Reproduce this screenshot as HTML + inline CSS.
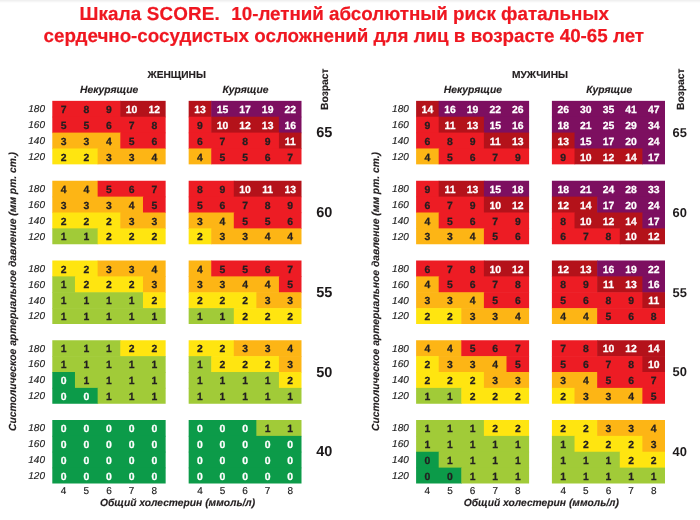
<!DOCTYPE html>
<html lang="ru"><head><meta charset="utf-8"><title>Шкала SCORE</title>
<style>
html,body{margin:0;padding:0;background:#fff;}
body{width:700px;height:520px;position:relative;overflow:hidden;font-family:"Liberation Sans",Arial,sans-serif;color:#231f20;text-rendering:geometricPrecision;}
.topsh{position:absolute;left:0;top:0;width:700px;height:3px;background:linear-gradient(#ededed,#fff);}
#chart{position:absolute;left:0;top:0;width:700px;height:520px;overflow:hidden;background:#fff;filter:blur(0.45px);}
svg.bg{position:absolute;left:0;top:0;}
.title{position:absolute;white-space:pre;color:#ef1720;font-weight:bold;font-size:18.8px;line-height:22px;-webkit-text-stroke:0.2px;}
.c{position:absolute;text-align:center;font-weight:bold;font-size:10.4px;line-height:15px;height:15px;color:#231f20;-webkit-text-stroke:0.25px;}
.w{color:#fff;}
.rl{position:absolute;font-style:italic;font-size:10px;line-height:15px;height:15px;text-align:right;width:30px;color:#1c1c1c;-webkit-text-stroke:0.15px;}
.xl{position:absolute;font-size:10px;text-align:center;color:#202020;-webkit-text-stroke:0.15px;}
.h{position:absolute;font-weight:bold;white-space:nowrap;color:#231f20;-webkit-text-stroke:0.15px;}
.hi{position:absolute;font-weight:bold;font-style:italic;white-space:nowrap;color:#231f20;-webkit-text-stroke:0.15px;}
.age{position:absolute;font-weight:bold;white-space:nowrap;color:#1d1a1b;line-height:16px;}
.rot{position:absolute;white-space:nowrap;transform-origin:0 0;transform:rotate(-90deg);color:#231f20;-webkit-text-stroke:0.15px;}
</style></head><body>
<div id="chart">
<div class="topsh"></div>
<div class="title" id="t1" style="top:2.7px;left:79.4px;font-size:18.8px;letter-spacing:0.18px">Шкала SCORE. </div>
<div class="title" id="t1b" style="top:2.7px;left:231.3px;font-size:18.78px;">10-летний абсолютный риск фатальных</div>
<div class="title" id="t2" style="top:24.5px;left:43.6px;">сердечно-сосудистых осложнений для лиц в возрасте 40-65 лет</div>
<svg class="bg" width="700" height="520" viewBox="0 0 700 520">
<rect x="52.30" y="100.85" width="68.61" height="16.48" fill="#ed1c24"/><rect x="120.31" y="100.85" width="45.34" height="16.48" fill="#b4121a"/><rect x="52.30" y="116.72" width="113.35" height="16.48" fill="#ed1c24"/><rect x="52.30" y="132.60" width="68.61" height="16.48" fill="#fdb515"/><rect x="120.31" y="132.60" width="45.34" height="16.48" fill="#ed1c24"/><rect x="52.30" y="148.47" width="45.94" height="15.88" fill="#ffe510"/><rect x="97.64" y="148.47" width="68.01" height="15.88" fill="#fdb515"/>
<rect x="52.30" y="180.75" width="45.94" height="16.48" fill="#fdb515"/><rect x="97.64" y="180.75" width="68.01" height="16.48" fill="#ed1c24"/><rect x="52.30" y="196.62" width="91.28" height="16.48" fill="#fdb515"/><rect x="142.98" y="196.62" width="22.67" height="16.48" fill="#ed1c24"/><rect x="52.30" y="212.50" width="68.61" height="16.48" fill="#ffe510"/><rect x="120.31" y="212.50" width="45.34" height="16.48" fill="#fdb515"/><rect x="52.30" y="228.38" width="45.94" height="15.88" fill="#a1cb38"/><rect x="97.64" y="228.38" width="68.01" height="15.88" fill="#ffe510"/>
<rect x="52.30" y="260.50" width="45.94" height="16.48" fill="#ffe510"/><rect x="97.64" y="260.50" width="68.01" height="16.48" fill="#fdb515"/><rect x="52.30" y="276.38" width="23.27" height="16.48" fill="#a1cb38"/><rect x="74.97" y="276.38" width="68.61" height="16.48" fill="#ffe510"/><rect x="142.98" y="276.38" width="22.67" height="16.48" fill="#fdb515"/><rect x="52.30" y="292.25" width="91.28" height="16.48" fill="#a1cb38"/><rect x="142.98" y="292.25" width="22.67" height="16.48" fill="#ffe510"/><rect x="52.30" y="308.12" width="113.35" height="15.88" fill="#a1cb38"/>
<rect x="52.30" y="340.25" width="68.61" height="16.48" fill="#a1cb38"/><rect x="120.31" y="340.25" width="45.34" height="16.48" fill="#ffe510"/><rect x="52.30" y="356.12" width="113.35" height="16.48" fill="#a1cb38"/><rect x="52.30" y="372.00" width="23.27" height="16.48" fill="#0c9b49"/><rect x="74.97" y="372.00" width="90.68" height="16.48" fill="#a1cb38"/><rect x="52.30" y="387.88" width="45.94" height="15.88" fill="#0c9b49"/><rect x="97.64" y="387.88" width="68.01" height="15.88" fill="#a1cb38"/>
<rect x="52.30" y="420.00" width="113.35" height="16.48" fill="#0c9b49"/><rect x="52.30" y="435.88" width="113.35" height="16.48" fill="#0c9b49"/><rect x="52.30" y="451.75" width="113.35" height="16.48" fill="#0c9b49"/><rect x="52.30" y="467.62" width="113.35" height="15.88" fill="#0c9b49"/>
<rect x="188.66" y="100.85" width="23.17" height="16.48" fill="#b4121a"/><rect x="211.23" y="100.85" width="90.27" height="16.48" fill="#7d0f60"/><rect x="188.66" y="116.72" width="23.17" height="16.48" fill="#ed1c24"/><rect x="211.23" y="116.72" width="68.30" height="16.48" fill="#b4121a"/><rect x="278.93" y="116.72" width="22.57" height="16.48" fill="#7d0f60"/><rect x="188.66" y="132.60" width="90.87" height="16.48" fill="#ed1c24"/><rect x="278.93" y="132.60" width="22.57" height="16.48" fill="#b4121a"/><rect x="188.66" y="148.47" width="23.17" height="15.88" fill="#fdb515"/><rect x="211.23" y="148.47" width="90.27" height="15.88" fill="#ed1c24"/>
<rect x="188.66" y="180.75" width="45.74" height="16.48" fill="#ed1c24"/><rect x="233.80" y="180.75" width="67.70" height="16.48" fill="#b4121a"/><rect x="188.66" y="196.62" width="112.84" height="16.48" fill="#ed1c24"/><rect x="188.66" y="212.50" width="45.74" height="16.48" fill="#fdb515"/><rect x="233.80" y="212.50" width="67.70" height="16.48" fill="#ed1c24"/><rect x="188.66" y="228.38" width="23.17" height="15.88" fill="#ffe510"/><rect x="211.23" y="228.38" width="90.27" height="15.88" fill="#fdb515"/>
<rect x="188.66" y="260.50" width="23.17" height="16.48" fill="#fdb515"/><rect x="211.23" y="260.50" width="90.27" height="16.48" fill="#ed1c24"/><rect x="188.66" y="276.38" width="90.87" height="16.48" fill="#fdb515"/><rect x="278.93" y="276.38" width="22.57" height="16.48" fill="#ed1c24"/><rect x="188.66" y="292.25" width="68.30" height="16.48" fill="#ffe510"/><rect x="256.36" y="292.25" width="45.14" height="16.48" fill="#fdb515"/><rect x="188.66" y="308.12" width="45.74" height="15.88" fill="#a1cb38"/><rect x="233.80" y="308.12" width="67.70" height="15.88" fill="#ffe510"/>
<rect x="188.66" y="340.25" width="45.74" height="16.48" fill="#ffe510"/><rect x="233.80" y="340.25" width="67.70" height="16.48" fill="#fdb515"/><rect x="188.66" y="356.12" width="23.17" height="16.48" fill="#a1cb38"/><rect x="211.23" y="356.12" width="68.30" height="16.48" fill="#ffe510"/><rect x="278.93" y="356.12" width="22.57" height="16.48" fill="#fdb515"/><rect x="188.66" y="372.00" width="90.87" height="16.48" fill="#a1cb38"/><rect x="278.93" y="372.00" width="22.57" height="16.48" fill="#ffe510"/><rect x="188.66" y="387.88" width="112.84" height="15.88" fill="#a1cb38"/>
<rect x="188.66" y="420.00" width="68.30" height="16.48" fill="#0c9b49"/><rect x="256.36" y="420.00" width="45.14" height="16.48" fill="#a1cb38"/><rect x="188.66" y="435.88" width="112.84" height="16.48" fill="#0c9b49"/><rect x="188.66" y="451.75" width="112.84" height="16.48" fill="#0c9b49"/><rect x="188.66" y="467.62" width="112.84" height="15.88" fill="#0c9b49"/>
<rect x="416.10" y="100.85" width="23.20" height="16.48" fill="#b4121a"/><rect x="438.70" y="100.85" width="90.40" height="16.48" fill="#7d0f60"/><rect x="416.10" y="116.72" width="23.20" height="16.48" fill="#ed1c24"/><rect x="438.70" y="116.72" width="45.80" height="16.48" fill="#b4121a"/><rect x="483.90" y="116.72" width="45.20" height="16.48" fill="#7d0f60"/><rect x="416.10" y="132.60" width="68.40" height="16.48" fill="#ed1c24"/><rect x="483.90" y="132.60" width="45.20" height="16.48" fill="#b4121a"/><rect x="416.10" y="148.47" width="23.20" height="15.88" fill="#fdb515"/><rect x="438.70" y="148.47" width="90.40" height="15.88" fill="#ed1c24"/>
<rect x="416.10" y="180.75" width="23.20" height="16.48" fill="#ed1c24"/><rect x="438.70" y="180.75" width="45.80" height="16.48" fill="#b4121a"/><rect x="483.90" y="180.75" width="45.20" height="16.48" fill="#7d0f60"/><rect x="416.10" y="196.62" width="68.40" height="16.48" fill="#ed1c24"/><rect x="483.90" y="196.62" width="45.20" height="16.48" fill="#b4121a"/><rect x="416.10" y="212.50" width="23.20" height="16.48" fill="#fdb515"/><rect x="438.70" y="212.50" width="90.40" height="16.48" fill="#ed1c24"/><rect x="416.10" y="228.38" width="68.40" height="15.88" fill="#fdb515"/><rect x="483.90" y="228.38" width="45.20" height="15.88" fill="#ed1c24"/>
<rect x="416.10" y="260.50" width="68.40" height="16.48" fill="#ed1c24"/><rect x="483.90" y="260.50" width="45.20" height="16.48" fill="#b4121a"/><rect x="416.10" y="276.38" width="23.20" height="16.48" fill="#fdb515"/><rect x="438.70" y="276.38" width="90.40" height="16.48" fill="#ed1c24"/><rect x="416.10" y="292.25" width="68.40" height="16.48" fill="#fdb515"/><rect x="483.90" y="292.25" width="45.20" height="16.48" fill="#ed1c24"/><rect x="416.10" y="308.12" width="45.80" height="15.88" fill="#ffe510"/><rect x="461.30" y="308.12" width="67.80" height="15.88" fill="#fdb515"/>
<rect x="416.10" y="340.25" width="45.80" height="16.48" fill="#fdb515"/><rect x="461.30" y="340.25" width="67.80" height="16.48" fill="#ed1c24"/><rect x="416.10" y="356.12" width="23.20" height="16.48" fill="#ffe510"/><rect x="438.70" y="356.12" width="68.40" height="16.48" fill="#fdb515"/><rect x="506.50" y="356.12" width="22.60" height="16.48" fill="#ed1c24"/><rect x="416.10" y="372.00" width="68.40" height="16.48" fill="#ffe510"/><rect x="483.90" y="372.00" width="45.20" height="16.48" fill="#fdb515"/><rect x="416.10" y="387.88" width="45.80" height="15.88" fill="#a1cb38"/><rect x="461.30" y="387.88" width="67.80" height="15.88" fill="#ffe510"/>
<rect x="416.10" y="420.00" width="68.40" height="16.48" fill="#a1cb38"/><rect x="483.90" y="420.00" width="45.20" height="16.48" fill="#ffe510"/><rect x="416.10" y="435.88" width="113.00" height="16.48" fill="#a1cb38"/><rect x="416.10" y="451.75" width="23.20" height="16.48" fill="#0c9b49"/><rect x="438.70" y="451.75" width="90.40" height="16.48" fill="#a1cb38"/><rect x="416.10" y="467.62" width="45.80" height="15.88" fill="#0c9b49"/><rect x="461.30" y="467.62" width="67.80" height="15.88" fill="#a1cb38"/>
<rect x="551.90" y="100.85" width="113.10" height="16.48" fill="#7d0f60"/><rect x="551.90" y="116.72" width="113.10" height="16.48" fill="#7d0f60"/><rect x="551.90" y="132.60" width="23.22" height="16.48" fill="#b4121a"/><rect x="574.52" y="132.60" width="90.48" height="16.48" fill="#7d0f60"/><rect x="551.90" y="148.47" width="23.22" height="15.88" fill="#ed1c24"/><rect x="574.52" y="148.47" width="68.46" height="15.88" fill="#b4121a"/><rect x="642.38" y="148.47" width="22.62" height="15.88" fill="#7d0f60"/>
<rect x="551.90" y="180.75" width="113.10" height="16.48" fill="#7d0f60"/><rect x="551.90" y="196.62" width="45.84" height="16.48" fill="#b4121a"/><rect x="597.14" y="196.62" width="67.86" height="16.48" fill="#7d0f60"/><rect x="551.90" y="212.50" width="23.22" height="16.48" fill="#ed1c24"/><rect x="574.52" y="212.50" width="68.46" height="16.48" fill="#b4121a"/><rect x="642.38" y="212.50" width="22.62" height="16.48" fill="#7d0f60"/><rect x="551.90" y="228.38" width="68.46" height="15.88" fill="#ed1c24"/><rect x="619.76" y="228.38" width="45.24" height="15.88" fill="#b4121a"/>
<rect x="551.90" y="260.50" width="45.84" height="16.48" fill="#b4121a"/><rect x="597.14" y="260.50" width="67.86" height="16.48" fill="#7d0f60"/><rect x="551.90" y="276.38" width="45.84" height="16.48" fill="#ed1c24"/><rect x="597.14" y="276.38" width="45.84" height="16.48" fill="#b4121a"/><rect x="642.38" y="276.38" width="22.62" height="16.48" fill="#7d0f60"/><rect x="551.90" y="292.25" width="91.08" height="16.48" fill="#ed1c24"/><rect x="642.38" y="292.25" width="22.62" height="16.48" fill="#b4121a"/><rect x="551.90" y="308.12" width="45.84" height="15.88" fill="#fdb515"/><rect x="597.14" y="308.12" width="67.86" height="15.88" fill="#ed1c24"/>
<rect x="551.90" y="340.25" width="45.84" height="16.48" fill="#ed1c24"/><rect x="597.14" y="340.25" width="67.86" height="16.48" fill="#b4121a"/><rect x="551.90" y="356.12" width="91.08" height="16.48" fill="#ed1c24"/><rect x="642.38" y="356.12" width="22.62" height="16.48" fill="#b4121a"/><rect x="551.90" y="372.00" width="45.84" height="16.48" fill="#fdb515"/><rect x="597.14" y="372.00" width="67.86" height="16.48" fill="#ed1c24"/><rect x="551.90" y="387.88" width="23.22" height="15.88" fill="#ffe510"/><rect x="574.52" y="387.88" width="68.46" height="15.88" fill="#fdb515"/><rect x="642.38" y="387.88" width="22.62" height="15.88" fill="#ed1c24"/>
<rect x="551.90" y="420.00" width="45.84" height="16.48" fill="#ffe510"/><rect x="597.14" y="420.00" width="67.86" height="16.48" fill="#fdb515"/><rect x="551.90" y="435.88" width="23.22" height="16.48" fill="#a1cb38"/><rect x="574.52" y="435.88" width="68.46" height="16.48" fill="#ffe510"/><rect x="642.38" y="435.88" width="22.62" height="16.48" fill="#fdb515"/><rect x="551.90" y="451.75" width="68.46" height="16.48" fill="#a1cb38"/><rect x="619.76" y="451.75" width="45.24" height="16.48" fill="#ffe510"/><rect x="551.90" y="467.62" width="113.10" height="15.88" fill="#a1cb38"/>
</svg>
<div class="c" style="left:52.30px;top:103px;width:22.67px">7</div><div class="c" style="left:74.97px;top:103px;width:22.67px">8</div><div class="c" style="left:97.64px;top:103px;width:22.67px">9</div><div class="c w" style="left:120.31px;top:103px;width:22.67px">10</div><div class="c w" style="left:142.98px;top:103px;width:22.67px">12</div><div class="c" style="left:52.30px;top:119px;width:22.67px">5</div><div class="c" style="left:74.97px;top:119px;width:22.67px">5</div><div class="c" style="left:97.64px;top:119px;width:22.67px">6</div><div class="c" style="left:120.31px;top:119px;width:22.67px">7</div><div class="c" style="left:142.98px;top:119px;width:22.67px">8</div><div class="c" style="left:52.30px;top:135px;width:22.67px">3</div><div class="c" style="left:74.97px;top:135px;width:22.67px">3</div><div class="c" style="left:97.64px;top:135px;width:22.67px">4</div><div class="c" style="left:120.31px;top:135px;width:22.67px">5</div><div class="c" style="left:142.98px;top:135px;width:22.67px">6</div><div class="c" style="left:52.30px;top:151px;width:22.67px">2</div><div class="c" style="left:74.97px;top:151px;width:22.67px">2</div><div class="c" style="left:97.64px;top:151px;width:22.67px">3</div><div class="c" style="left:120.31px;top:151px;width:22.67px">3</div><div class="c" style="left:142.98px;top:151px;width:22.67px">4</div>
<div class="c" style="left:52.30px;top:183px;width:22.67px">4</div><div class="c" style="left:74.97px;top:183px;width:22.67px">4</div><div class="c" style="left:97.64px;top:183px;width:22.67px">5</div><div class="c" style="left:120.31px;top:183px;width:22.67px">6</div><div class="c" style="left:142.98px;top:183px;width:22.67px">7</div><div class="c" style="left:52.30px;top:199px;width:22.67px">3</div><div class="c" style="left:74.97px;top:199px;width:22.67px">3</div><div class="c" style="left:97.64px;top:199px;width:22.67px">3</div><div class="c" style="left:120.31px;top:199px;width:22.67px">4</div><div class="c" style="left:142.98px;top:199px;width:22.67px">5</div><div class="c" style="left:52.30px;top:215px;width:22.67px">2</div><div class="c" style="left:74.97px;top:215px;width:22.67px">2</div><div class="c" style="left:97.64px;top:215px;width:22.67px">2</div><div class="c" style="left:120.31px;top:215px;width:22.67px">3</div><div class="c" style="left:142.98px;top:215px;width:22.67px">3</div><div class="c" style="left:52.30px;top:230px;width:22.67px">1</div><div class="c" style="left:74.97px;top:230px;width:22.67px">1</div><div class="c" style="left:97.64px;top:230px;width:22.67px">2</div><div class="c" style="left:120.31px;top:230px;width:22.67px">2</div><div class="c" style="left:142.98px;top:230px;width:22.67px">2</div>
<div class="c" style="left:52.30px;top:263px;width:22.67px">2</div><div class="c" style="left:74.97px;top:263px;width:22.67px">2</div><div class="c" style="left:97.64px;top:263px;width:22.67px">3</div><div class="c" style="left:120.31px;top:263px;width:22.67px">3</div><div class="c" style="left:142.98px;top:263px;width:22.67px">4</div><div class="c" style="left:52.30px;top:278px;width:22.67px">1</div><div class="c" style="left:74.97px;top:278px;width:22.67px">2</div><div class="c" style="left:97.64px;top:278px;width:22.67px">2</div><div class="c" style="left:120.31px;top:278px;width:22.67px">2</div><div class="c" style="left:142.98px;top:278px;width:22.67px">3</div><div class="c" style="left:52.30px;top:294px;width:22.67px">1</div><div class="c" style="left:74.97px;top:294px;width:22.67px">1</div><div class="c" style="left:97.64px;top:294px;width:22.67px">1</div><div class="c" style="left:120.31px;top:294px;width:22.67px">1</div><div class="c" style="left:142.98px;top:294px;width:22.67px">2</div><div class="c" style="left:52.30px;top:310px;width:22.67px">1</div><div class="c" style="left:74.97px;top:310px;width:22.67px">1</div><div class="c" style="left:97.64px;top:310px;width:22.67px">1</div><div class="c" style="left:120.31px;top:310px;width:22.67px">1</div><div class="c" style="left:142.98px;top:310px;width:22.67px">1</div>
<div class="c" style="left:52.30px;top:342px;width:22.67px">1</div><div class="c" style="left:74.97px;top:342px;width:22.67px">1</div><div class="c" style="left:97.64px;top:342px;width:22.67px">1</div><div class="c" style="left:120.31px;top:342px;width:22.67px">2</div><div class="c" style="left:142.98px;top:342px;width:22.67px">2</div><div class="c" style="left:52.30px;top:358px;width:22.67px">1</div><div class="c" style="left:74.97px;top:358px;width:22.67px">1</div><div class="c" style="left:97.64px;top:358px;width:22.67px">1</div><div class="c" style="left:120.31px;top:358px;width:22.67px">1</div><div class="c" style="left:142.98px;top:358px;width:22.67px">1</div><div class="c w" style="left:52.30px;top:374px;width:22.67px">0</div><div class="c" style="left:74.97px;top:374px;width:22.67px">1</div><div class="c" style="left:97.64px;top:374px;width:22.67px">1</div><div class="c" style="left:120.31px;top:374px;width:22.67px">1</div><div class="c" style="left:142.98px;top:374px;width:22.67px">1</div><div class="c w" style="left:52.30px;top:390px;width:22.67px">0</div><div class="c w" style="left:74.97px;top:390px;width:22.67px">0</div><div class="c" style="left:97.64px;top:390px;width:22.67px">1</div><div class="c" style="left:120.31px;top:390px;width:22.67px">1</div><div class="c" style="left:142.98px;top:390px;width:22.67px">1</div>
<div class="c w" style="left:52.30px;top:422px;width:22.67px">0</div><div class="c w" style="left:74.97px;top:422px;width:22.67px">0</div><div class="c w" style="left:97.64px;top:422px;width:22.67px">0</div><div class="c w" style="left:120.31px;top:422px;width:22.67px">0</div><div class="c w" style="left:142.98px;top:422px;width:22.67px">0</div><div class="c w" style="left:52.30px;top:438px;width:22.67px">0</div><div class="c w" style="left:74.97px;top:438px;width:22.67px">0</div><div class="c w" style="left:97.64px;top:438px;width:22.67px">0</div><div class="c w" style="left:120.31px;top:438px;width:22.67px">0</div><div class="c w" style="left:142.98px;top:438px;width:22.67px">0</div><div class="c w" style="left:52.30px;top:454px;width:22.67px">0</div><div class="c w" style="left:74.97px;top:454px;width:22.67px">0</div><div class="c w" style="left:97.64px;top:454px;width:22.67px">0</div><div class="c w" style="left:120.31px;top:454px;width:22.67px">0</div><div class="c w" style="left:142.98px;top:454px;width:22.67px">0</div><div class="c w" style="left:52.30px;top:470px;width:22.67px">0</div><div class="c w" style="left:74.97px;top:470px;width:22.67px">0</div><div class="c w" style="left:97.64px;top:470px;width:22.67px">0</div><div class="c w" style="left:120.31px;top:470px;width:22.67px">0</div><div class="c w" style="left:142.98px;top:470px;width:22.67px">0</div>
<div class="c w" style="left:188.66px;top:103px;width:22.57px">13</div><div class="c w" style="left:211.23px;top:103px;width:22.57px">15</div><div class="c w" style="left:233.80px;top:103px;width:22.57px">17</div><div class="c w" style="left:256.36px;top:103px;width:22.57px">19</div><div class="c w" style="left:278.93px;top:103px;width:22.57px">22</div><div class="c" style="left:188.66px;top:119px;width:22.57px">9</div><div class="c w" style="left:211.23px;top:119px;width:22.57px">10</div><div class="c w" style="left:233.80px;top:119px;width:22.57px">12</div><div class="c w" style="left:256.36px;top:119px;width:22.57px">13</div><div class="c w" style="left:278.93px;top:119px;width:22.57px">16</div><div class="c" style="left:188.66px;top:135px;width:22.57px">6</div><div class="c" style="left:211.23px;top:135px;width:22.57px">7</div><div class="c" style="left:233.80px;top:135px;width:22.57px">8</div><div class="c" style="left:256.36px;top:135px;width:22.57px">9</div><div class="c w" style="left:278.93px;top:135px;width:22.57px">11</div><div class="c" style="left:188.66px;top:151px;width:22.57px">4</div><div class="c" style="left:211.23px;top:151px;width:22.57px">5</div><div class="c" style="left:233.80px;top:151px;width:22.57px">5</div><div class="c" style="left:256.36px;top:151px;width:22.57px">6</div><div class="c" style="left:278.93px;top:151px;width:22.57px">7</div>
<div class="c" style="left:188.66px;top:183px;width:22.57px">8</div><div class="c" style="left:211.23px;top:183px;width:22.57px">9</div><div class="c w" style="left:233.80px;top:183px;width:22.57px">10</div><div class="c w" style="left:256.36px;top:183px;width:22.57px">11</div><div class="c w" style="left:278.93px;top:183px;width:22.57px">13</div><div class="c" style="left:188.66px;top:199px;width:22.57px">5</div><div class="c" style="left:211.23px;top:199px;width:22.57px">6</div><div class="c" style="left:233.80px;top:199px;width:22.57px">7</div><div class="c" style="left:256.36px;top:199px;width:22.57px">8</div><div class="c" style="left:278.93px;top:199px;width:22.57px">9</div><div class="c" style="left:188.66px;top:215px;width:22.57px">3</div><div class="c" style="left:211.23px;top:215px;width:22.57px">4</div><div class="c" style="left:233.80px;top:215px;width:22.57px">5</div><div class="c" style="left:256.36px;top:215px;width:22.57px">5</div><div class="c" style="left:278.93px;top:215px;width:22.57px">6</div><div class="c" style="left:188.66px;top:230px;width:22.57px">2</div><div class="c" style="left:211.23px;top:230px;width:22.57px">3</div><div class="c" style="left:233.80px;top:230px;width:22.57px">3</div><div class="c" style="left:256.36px;top:230px;width:22.57px">4</div><div class="c" style="left:278.93px;top:230px;width:22.57px">4</div>
<div class="c" style="left:188.66px;top:263px;width:22.57px">4</div><div class="c" style="left:211.23px;top:263px;width:22.57px">5</div><div class="c" style="left:233.80px;top:263px;width:22.57px">5</div><div class="c" style="left:256.36px;top:263px;width:22.57px">6</div><div class="c" style="left:278.93px;top:263px;width:22.57px">7</div><div class="c" style="left:188.66px;top:278px;width:22.57px">3</div><div class="c" style="left:211.23px;top:278px;width:22.57px">3</div><div class="c" style="left:233.80px;top:278px;width:22.57px">4</div><div class="c" style="left:256.36px;top:278px;width:22.57px">4</div><div class="c" style="left:278.93px;top:278px;width:22.57px">5</div><div class="c" style="left:188.66px;top:294px;width:22.57px">2</div><div class="c" style="left:211.23px;top:294px;width:22.57px">2</div><div class="c" style="left:233.80px;top:294px;width:22.57px">2</div><div class="c" style="left:256.36px;top:294px;width:22.57px">3</div><div class="c" style="left:278.93px;top:294px;width:22.57px">3</div><div class="c" style="left:188.66px;top:310px;width:22.57px">1</div><div class="c" style="left:211.23px;top:310px;width:22.57px">1</div><div class="c" style="left:233.80px;top:310px;width:22.57px">2</div><div class="c" style="left:256.36px;top:310px;width:22.57px">2</div><div class="c" style="left:278.93px;top:310px;width:22.57px">2</div>
<div class="c" style="left:188.66px;top:342px;width:22.57px">2</div><div class="c" style="left:211.23px;top:342px;width:22.57px">2</div><div class="c" style="left:233.80px;top:342px;width:22.57px">3</div><div class="c" style="left:256.36px;top:342px;width:22.57px">3</div><div class="c" style="left:278.93px;top:342px;width:22.57px">4</div><div class="c" style="left:188.66px;top:358px;width:22.57px">1</div><div class="c" style="left:211.23px;top:358px;width:22.57px">2</div><div class="c" style="left:233.80px;top:358px;width:22.57px">2</div><div class="c" style="left:256.36px;top:358px;width:22.57px">2</div><div class="c" style="left:278.93px;top:358px;width:22.57px">3</div><div class="c" style="left:188.66px;top:374px;width:22.57px">1</div><div class="c" style="left:211.23px;top:374px;width:22.57px">1</div><div class="c" style="left:233.80px;top:374px;width:22.57px">1</div><div class="c" style="left:256.36px;top:374px;width:22.57px">1</div><div class="c" style="left:278.93px;top:374px;width:22.57px">2</div><div class="c" style="left:188.66px;top:390px;width:22.57px">1</div><div class="c" style="left:211.23px;top:390px;width:22.57px">1</div><div class="c" style="left:233.80px;top:390px;width:22.57px">1</div><div class="c" style="left:256.36px;top:390px;width:22.57px">1</div><div class="c" style="left:278.93px;top:390px;width:22.57px">1</div>
<div class="c w" style="left:188.66px;top:422px;width:22.57px">0</div><div class="c w" style="left:211.23px;top:422px;width:22.57px">0</div><div class="c w" style="left:233.80px;top:422px;width:22.57px">0</div><div class="c" style="left:256.36px;top:422px;width:22.57px">1</div><div class="c" style="left:278.93px;top:422px;width:22.57px">1</div><div class="c w" style="left:188.66px;top:438px;width:22.57px">0</div><div class="c w" style="left:211.23px;top:438px;width:22.57px">0</div><div class="c w" style="left:233.80px;top:438px;width:22.57px">0</div><div class="c w" style="left:256.36px;top:438px;width:22.57px">0</div><div class="c w" style="left:278.93px;top:438px;width:22.57px">0</div><div class="c w" style="left:188.66px;top:454px;width:22.57px">0</div><div class="c w" style="left:211.23px;top:454px;width:22.57px">0</div><div class="c w" style="left:233.80px;top:454px;width:22.57px">0</div><div class="c w" style="left:256.36px;top:454px;width:22.57px">0</div><div class="c w" style="left:278.93px;top:454px;width:22.57px">0</div><div class="c w" style="left:188.66px;top:470px;width:22.57px">0</div><div class="c w" style="left:211.23px;top:470px;width:22.57px">0</div><div class="c w" style="left:233.80px;top:470px;width:22.57px">0</div><div class="c w" style="left:256.36px;top:470px;width:22.57px">0</div><div class="c w" style="left:278.93px;top:470px;width:22.57px">0</div>
<div class="c w" style="left:416.10px;top:103px;width:22.60px">14</div><div class="c w" style="left:438.70px;top:103px;width:22.60px">16</div><div class="c w" style="left:461.30px;top:103px;width:22.60px">19</div><div class="c w" style="left:483.90px;top:103px;width:22.60px">22</div><div class="c w" style="left:506.50px;top:103px;width:22.60px">26</div><div class="c" style="left:416.10px;top:119px;width:22.60px">9</div><div class="c w" style="left:438.70px;top:119px;width:22.60px">11</div><div class="c w" style="left:461.30px;top:119px;width:22.60px">13</div><div class="c w" style="left:483.90px;top:119px;width:22.60px">15</div><div class="c w" style="left:506.50px;top:119px;width:22.60px">16</div><div class="c" style="left:416.10px;top:135px;width:22.60px">6</div><div class="c" style="left:438.70px;top:135px;width:22.60px">8</div><div class="c" style="left:461.30px;top:135px;width:22.60px">9</div><div class="c w" style="left:483.90px;top:135px;width:22.60px">11</div><div class="c w" style="left:506.50px;top:135px;width:22.60px">13</div><div class="c" style="left:416.10px;top:151px;width:22.60px">4</div><div class="c" style="left:438.70px;top:151px;width:22.60px">5</div><div class="c" style="left:461.30px;top:151px;width:22.60px">6</div><div class="c" style="left:483.90px;top:151px;width:22.60px">7</div><div class="c" style="left:506.50px;top:151px;width:22.60px">9</div>
<div class="c" style="left:416.10px;top:183px;width:22.60px">9</div><div class="c w" style="left:438.70px;top:183px;width:22.60px">11</div><div class="c w" style="left:461.30px;top:183px;width:22.60px">13</div><div class="c w" style="left:483.90px;top:183px;width:22.60px">15</div><div class="c w" style="left:506.50px;top:183px;width:22.60px">18</div><div class="c" style="left:416.10px;top:199px;width:22.60px">6</div><div class="c" style="left:438.70px;top:199px;width:22.60px">7</div><div class="c" style="left:461.30px;top:199px;width:22.60px">9</div><div class="c w" style="left:483.90px;top:199px;width:22.60px">10</div><div class="c w" style="left:506.50px;top:199px;width:22.60px">12</div><div class="c" style="left:416.10px;top:215px;width:22.60px">4</div><div class="c" style="left:438.70px;top:215px;width:22.60px">5</div><div class="c" style="left:461.30px;top:215px;width:22.60px">6</div><div class="c" style="left:483.90px;top:215px;width:22.60px">7</div><div class="c" style="left:506.50px;top:215px;width:22.60px">9</div><div class="c" style="left:416.10px;top:230px;width:22.60px">3</div><div class="c" style="left:438.70px;top:230px;width:22.60px">3</div><div class="c" style="left:461.30px;top:230px;width:22.60px">4</div><div class="c" style="left:483.90px;top:230px;width:22.60px">5</div><div class="c" style="left:506.50px;top:230px;width:22.60px">6</div>
<div class="c" style="left:416.10px;top:263px;width:22.60px">6</div><div class="c" style="left:438.70px;top:263px;width:22.60px">7</div><div class="c" style="left:461.30px;top:263px;width:22.60px">8</div><div class="c w" style="left:483.90px;top:263px;width:22.60px">10</div><div class="c w" style="left:506.50px;top:263px;width:22.60px">12</div><div class="c" style="left:416.10px;top:278px;width:22.60px">4</div><div class="c" style="left:438.70px;top:278px;width:22.60px">5</div><div class="c" style="left:461.30px;top:278px;width:22.60px">6</div><div class="c" style="left:483.90px;top:278px;width:22.60px">7</div><div class="c" style="left:506.50px;top:278px;width:22.60px">8</div><div class="c" style="left:416.10px;top:294px;width:22.60px">3</div><div class="c" style="left:438.70px;top:294px;width:22.60px">3</div><div class="c" style="left:461.30px;top:294px;width:22.60px">4</div><div class="c" style="left:483.90px;top:294px;width:22.60px">5</div><div class="c" style="left:506.50px;top:294px;width:22.60px">6</div><div class="c" style="left:416.10px;top:310px;width:22.60px">2</div><div class="c" style="left:438.70px;top:310px;width:22.60px">2</div><div class="c" style="left:461.30px;top:310px;width:22.60px">3</div><div class="c" style="left:483.90px;top:310px;width:22.60px">3</div><div class="c" style="left:506.50px;top:310px;width:22.60px">4</div>
<div class="c" style="left:416.10px;top:342px;width:22.60px">4</div><div class="c" style="left:438.70px;top:342px;width:22.60px">4</div><div class="c" style="left:461.30px;top:342px;width:22.60px">5</div><div class="c" style="left:483.90px;top:342px;width:22.60px">6</div><div class="c" style="left:506.50px;top:342px;width:22.60px">7</div><div class="c" style="left:416.10px;top:358px;width:22.60px">2</div><div class="c" style="left:438.70px;top:358px;width:22.60px">3</div><div class="c" style="left:461.30px;top:358px;width:22.60px">3</div><div class="c" style="left:483.90px;top:358px;width:22.60px">4</div><div class="c" style="left:506.50px;top:358px;width:22.60px">5</div><div class="c" style="left:416.10px;top:374px;width:22.60px">2</div><div class="c" style="left:438.70px;top:374px;width:22.60px">2</div><div class="c" style="left:461.30px;top:374px;width:22.60px">2</div><div class="c" style="left:483.90px;top:374px;width:22.60px">3</div><div class="c" style="left:506.50px;top:374px;width:22.60px">3</div><div class="c" style="left:416.10px;top:390px;width:22.60px">1</div><div class="c" style="left:438.70px;top:390px;width:22.60px">1</div><div class="c" style="left:461.30px;top:390px;width:22.60px">2</div><div class="c" style="left:483.90px;top:390px;width:22.60px">2</div><div class="c" style="left:506.50px;top:390px;width:22.60px">2</div>
<div class="c" style="left:416.10px;top:422px;width:22.60px">1</div><div class="c" style="left:438.70px;top:422px;width:22.60px">1</div><div class="c" style="left:461.30px;top:422px;width:22.60px">1</div><div class="c" style="left:483.90px;top:422px;width:22.60px">2</div><div class="c" style="left:506.50px;top:422px;width:22.60px">2</div><div class="c" style="left:416.10px;top:438px;width:22.60px">1</div><div class="c" style="left:438.70px;top:438px;width:22.60px">1</div><div class="c" style="left:461.30px;top:438px;width:22.60px">1</div><div class="c" style="left:483.90px;top:438px;width:22.60px">1</div><div class="c" style="left:506.50px;top:438px;width:22.60px">1</div><div class="c" style="left:416.10px;top:454px;width:22.60px">0</div><div class="c" style="left:438.70px;top:454px;width:22.60px">1</div><div class="c" style="left:461.30px;top:454px;width:22.60px">1</div><div class="c" style="left:483.90px;top:454px;width:22.60px">1</div><div class="c" style="left:506.50px;top:454px;width:22.60px">1</div><div class="c" style="left:416.10px;top:470px;width:22.60px">0</div><div class="c" style="left:438.70px;top:470px;width:22.60px">0</div><div class="c" style="left:461.30px;top:470px;width:22.60px">1</div><div class="c" style="left:483.90px;top:470px;width:22.60px">1</div><div class="c" style="left:506.50px;top:470px;width:22.60px">1</div>
<div class="c w" style="left:551.90px;top:103px;width:22.62px">26</div><div class="c w" style="left:574.52px;top:103px;width:22.62px">30</div><div class="c w" style="left:597.14px;top:103px;width:22.62px">35</div><div class="c w" style="left:619.76px;top:103px;width:22.62px">41</div><div class="c w" style="left:642.38px;top:103px;width:22.62px">47</div><div class="c w" style="left:551.90px;top:119px;width:22.62px">18</div><div class="c w" style="left:574.52px;top:119px;width:22.62px">21</div><div class="c w" style="left:597.14px;top:119px;width:22.62px">25</div><div class="c w" style="left:619.76px;top:119px;width:22.62px">29</div><div class="c w" style="left:642.38px;top:119px;width:22.62px">34</div><div class="c w" style="left:551.90px;top:135px;width:22.62px">13</div><div class="c w" style="left:574.52px;top:135px;width:22.62px">15</div><div class="c w" style="left:597.14px;top:135px;width:22.62px">17</div><div class="c w" style="left:619.76px;top:135px;width:22.62px">20</div><div class="c w" style="left:642.38px;top:135px;width:22.62px">24</div><div class="c" style="left:551.90px;top:151px;width:22.62px">9</div><div class="c w" style="left:574.52px;top:151px;width:22.62px">10</div><div class="c w" style="left:597.14px;top:151px;width:22.62px">12</div><div class="c w" style="left:619.76px;top:151px;width:22.62px">14</div><div class="c w" style="left:642.38px;top:151px;width:22.62px">17</div>
<div class="c w" style="left:551.90px;top:183px;width:22.62px">18</div><div class="c w" style="left:574.52px;top:183px;width:22.62px">21</div><div class="c w" style="left:597.14px;top:183px;width:22.62px">24</div><div class="c w" style="left:619.76px;top:183px;width:22.62px">28</div><div class="c w" style="left:642.38px;top:183px;width:22.62px">33</div><div class="c w" style="left:551.90px;top:199px;width:22.62px">12</div><div class="c w" style="left:574.52px;top:199px;width:22.62px">14</div><div class="c w" style="left:597.14px;top:199px;width:22.62px">17</div><div class="c w" style="left:619.76px;top:199px;width:22.62px">20</div><div class="c w" style="left:642.38px;top:199px;width:22.62px">24</div><div class="c" style="left:551.90px;top:215px;width:22.62px">8</div><div class="c w" style="left:574.52px;top:215px;width:22.62px">10</div><div class="c w" style="left:597.14px;top:215px;width:22.62px">12</div><div class="c w" style="left:619.76px;top:215px;width:22.62px">14</div><div class="c w" style="left:642.38px;top:215px;width:22.62px">17</div><div class="c" style="left:551.90px;top:230px;width:22.62px">6</div><div class="c" style="left:574.52px;top:230px;width:22.62px">7</div><div class="c" style="left:597.14px;top:230px;width:22.62px">8</div><div class="c w" style="left:619.76px;top:230px;width:22.62px">10</div><div class="c w" style="left:642.38px;top:230px;width:22.62px">12</div>
<div class="c w" style="left:551.90px;top:263px;width:22.62px">12</div><div class="c w" style="left:574.52px;top:263px;width:22.62px">13</div><div class="c w" style="left:597.14px;top:263px;width:22.62px">16</div><div class="c w" style="left:619.76px;top:263px;width:22.62px">19</div><div class="c w" style="left:642.38px;top:263px;width:22.62px">22</div><div class="c" style="left:551.90px;top:278px;width:22.62px">8</div><div class="c" style="left:574.52px;top:278px;width:22.62px">9</div><div class="c w" style="left:597.14px;top:278px;width:22.62px">11</div><div class="c w" style="left:619.76px;top:278px;width:22.62px">13</div><div class="c w" style="left:642.38px;top:278px;width:22.62px">16</div><div class="c" style="left:551.90px;top:294px;width:22.62px">5</div><div class="c" style="left:574.52px;top:294px;width:22.62px">6</div><div class="c" style="left:597.14px;top:294px;width:22.62px">8</div><div class="c" style="left:619.76px;top:294px;width:22.62px">9</div><div class="c w" style="left:642.38px;top:294px;width:22.62px">11</div><div class="c" style="left:551.90px;top:310px;width:22.62px">4</div><div class="c" style="left:574.52px;top:310px;width:22.62px">4</div><div class="c" style="left:597.14px;top:310px;width:22.62px">5</div><div class="c" style="left:619.76px;top:310px;width:22.62px">6</div><div class="c" style="left:642.38px;top:310px;width:22.62px">8</div>
<div class="c" style="left:551.90px;top:342px;width:22.62px">7</div><div class="c" style="left:574.52px;top:342px;width:22.62px">8</div><div class="c w" style="left:597.14px;top:342px;width:22.62px">10</div><div class="c w" style="left:619.76px;top:342px;width:22.62px">12</div><div class="c w" style="left:642.38px;top:342px;width:22.62px">14</div><div class="c" style="left:551.90px;top:358px;width:22.62px">5</div><div class="c" style="left:574.52px;top:358px;width:22.62px">6</div><div class="c" style="left:597.14px;top:358px;width:22.62px">7</div><div class="c" style="left:619.76px;top:358px;width:22.62px">8</div><div class="c w" style="left:642.38px;top:358px;width:22.62px">10</div><div class="c" style="left:551.90px;top:374px;width:22.62px">3</div><div class="c" style="left:574.52px;top:374px;width:22.62px">4</div><div class="c" style="left:597.14px;top:374px;width:22.62px">5</div><div class="c" style="left:619.76px;top:374px;width:22.62px">6</div><div class="c" style="left:642.38px;top:374px;width:22.62px">7</div><div class="c" style="left:551.90px;top:390px;width:22.62px">2</div><div class="c" style="left:574.52px;top:390px;width:22.62px">3</div><div class="c" style="left:597.14px;top:390px;width:22.62px">3</div><div class="c" style="left:619.76px;top:390px;width:22.62px">4</div><div class="c" style="left:642.38px;top:390px;width:22.62px">5</div>
<div class="c" style="left:551.90px;top:422px;width:22.62px">2</div><div class="c" style="left:574.52px;top:422px;width:22.62px">2</div><div class="c" style="left:597.14px;top:422px;width:22.62px">3</div><div class="c" style="left:619.76px;top:422px;width:22.62px">3</div><div class="c" style="left:642.38px;top:422px;width:22.62px">4</div><div class="c" style="left:551.90px;top:438px;width:22.62px">1</div><div class="c" style="left:574.52px;top:438px;width:22.62px">2</div><div class="c" style="left:597.14px;top:438px;width:22.62px">2</div><div class="c" style="left:619.76px;top:438px;width:22.62px">2</div><div class="c" style="left:642.38px;top:438px;width:22.62px">3</div><div class="c" style="left:551.90px;top:454px;width:22.62px">1</div><div class="c" style="left:574.52px;top:454px;width:22.62px">1</div><div class="c" style="left:597.14px;top:454px;width:22.62px">1</div><div class="c" style="left:619.76px;top:454px;width:22.62px">2</div><div class="c" style="left:642.38px;top:454px;width:22.62px">2</div><div class="c" style="left:551.90px;top:470px;width:22.62px">1</div><div class="c" style="left:574.52px;top:470px;width:22.62px">1</div><div class="c" style="left:597.14px;top:470px;width:22.62px">1</div><div class="c" style="left:619.76px;top:470px;width:22.62px">1</div><div class="c" style="left:642.38px;top:470px;width:22.62px">1</div>
<div class="rl" style="left:15.00px;top:102px">180</div><div class="rl" style="left:15.00px;top:118px">160</div><div class="rl" style="left:15.00px;top:134px">140</div><div class="rl" style="left:15.00px;top:150px">120</div><div class="rl" style="left:15.00px;top:182px">180</div><div class="rl" style="left:15.00px;top:198px">160</div><div class="rl" style="left:15.00px;top:214px">140</div><div class="rl" style="left:15.00px;top:230px">120</div><div class="rl" style="left:15.00px;top:262px">180</div><div class="rl" style="left:15.00px;top:278px">160</div><div class="rl" style="left:15.00px;top:294px">140</div><div class="rl" style="left:15.00px;top:309px">120</div><div class="rl" style="left:15.00px;top:342px">180</div><div class="rl" style="left:15.00px;top:357px">160</div><div class="rl" style="left:15.00px;top:373px">140</div><div class="rl" style="left:15.00px;top:389px">120</div><div class="rl" style="left:15.00px;top:421px">180</div><div class="rl" style="left:15.00px;top:437px">160</div><div class="rl" style="left:15.00px;top:453px">140</div><div class="rl" style="left:15.00px;top:469px">120</div>
<div class="rl" style="left:378.80px;top:102px">180</div><div class="rl" style="left:378.80px;top:118px">160</div><div class="rl" style="left:378.80px;top:134px">140</div><div class="rl" style="left:378.80px;top:150px">120</div><div class="rl" style="left:378.80px;top:182px">180</div><div class="rl" style="left:378.80px;top:198px">160</div><div class="rl" style="left:378.80px;top:214px">140</div><div class="rl" style="left:378.80px;top:230px">120</div><div class="rl" style="left:378.80px;top:262px">180</div><div class="rl" style="left:378.80px;top:278px">160</div><div class="rl" style="left:378.80px;top:294px">140</div><div class="rl" style="left:378.80px;top:309px">120</div><div class="rl" style="left:378.80px;top:342px">180</div><div class="rl" style="left:378.80px;top:357px">160</div><div class="rl" style="left:378.80px;top:373px">140</div><div class="rl" style="left:378.80px;top:389px">120</div><div class="rl" style="left:378.80px;top:421px">180</div><div class="rl" style="left:378.80px;top:437px">160</div><div class="rl" style="left:378.80px;top:453px">140</div><div class="rl" style="left:378.80px;top:469px">120</div>
<div class="xl" style="left:52.30px;top:485px;width:22.67px;line-height:13px">4</div><div class="xl" style="left:74.97px;top:485px;width:22.67px;line-height:13px">5</div><div class="xl" style="left:97.64px;top:485px;width:22.67px;line-height:13px">6</div><div class="xl" style="left:120.31px;top:485px;width:22.67px;line-height:13px">7</div><div class="xl" style="left:142.98px;top:485px;width:22.67px;line-height:13px">8</div>
<div class="xl" style="left:188.66px;top:485px;width:22.57px;line-height:13px">4</div><div class="xl" style="left:211.23px;top:485px;width:22.57px;line-height:13px">5</div><div class="xl" style="left:233.80px;top:485px;width:22.57px;line-height:13px">6</div><div class="xl" style="left:256.36px;top:485px;width:22.57px;line-height:13px">7</div><div class="xl" style="left:278.93px;top:485px;width:22.57px;line-height:13px">8</div>
<div class="xl" style="left:416.10px;top:485px;width:22.60px;line-height:13px">4</div><div class="xl" style="left:438.70px;top:485px;width:22.60px;line-height:13px">5</div><div class="xl" style="left:461.30px;top:485px;width:22.60px;line-height:13px">6</div><div class="xl" style="left:483.90px;top:485px;width:22.60px;line-height:13px">7</div><div class="xl" style="left:506.50px;top:485px;width:22.60px;line-height:13px">8</div>
<div class="xl" style="left:551.90px;top:485px;width:22.62px;line-height:13px">4</div><div class="xl" style="left:574.52px;top:485px;width:22.62px;line-height:13px">5</div><div class="xl" style="left:597.14px;top:485px;width:22.62px;line-height:13px">6</div><div class="xl" style="left:619.76px;top:485px;width:22.62px;line-height:13px">7</div><div class="xl" style="left:642.38px;top:485px;width:22.62px;line-height:13px">8</div>
<div class="h" id="hw" style="left:147.5px;top:68.5px;font-size:10.2px;line-height:13px">ЖЕНЩИНЫ</div>
<div class="h" id="hm" style="left:512px;top:68.5px;font-size:10.2px;line-height:13px">МУЖЧИНЫ</div>
<div class="hi" id="nsw" style="left:80.00px;top:84px;font-size:10.3px;line-height:13px">Некурящие</div>
<div class="hi" id="smw" style="left:222.50px;top:84px;font-size:10.3px;line-height:13px">Курящие</div>
<div class="hi" id="chw" style="left:100.00px;top:497px;font-size:10.27px;line-height:13px">Общий холестерин (ммоль/л)</div>
<div class="rot" id="sysw" style="left:6.60px;top:431.3px;font-weight:bold;font-style:italic;font-size:10.31px;line-height:13px">Систолическое артериальное давление (мм рт. ст.)</div>
<div class="rot" id="vzw" style="left:318.90px;top:110.0px;font-weight:bold;font-size:10.35px;line-height:13px">Возраст</div>
<div class="age" style="left:316.20px;top:125.00px;font-size:14.5px">65</div><div class="age" style="left:316.20px;top:204.90px;font-size:14.5px">60</div><div class="age" style="left:316.20px;top:284.65px;font-size:14.5px">55</div><div class="age" style="left:316.20px;top:365.40px;font-size:14.5px">50</div><div class="age" style="left:316.20px;top:444.15px;font-size:14.5px">40</div>
<div class="hi" id="nsm" style="left:443.75px;top:84px;font-size:10.3px;line-height:13px">Некурящие</div>
<div class="hi" id="smm" style="left:586.25px;top:84px;font-size:10.3px;line-height:13px">Курящие</div>
<div class="hi" id="chm" style="left:463.75px;top:497px;font-size:10.27px;line-height:13px">Общий холестерин (ммоль/л)</div>
<div class="rot" id="sysm" style="left:370.35px;top:431.3px;font-weight:bold;font-style:italic;font-size:10.31px;line-height:13px">Систолическое артериальное давление (мм рт. ст.)</div>
<div class="rot" id="vzm" style="left:674.70px;top:110.0px;font-weight:bold;font-size:10.35px;line-height:13px">Возраст</div>
<div class="age" style="left:672.60px;top:125.00px;font-size:12.9px">65</div><div class="age" style="left:672.60px;top:204.90px;font-size:12.9px">60</div><div class="age" style="left:672.60px;top:284.65px;font-size:12.9px">55</div><div class="age" style="left:672.60px;top:364.40px;font-size:12.9px">50</div><div class="age" style="left:672.60px;top:444.15px;font-size:12.9px">40</div>
</div>
</body></html>
